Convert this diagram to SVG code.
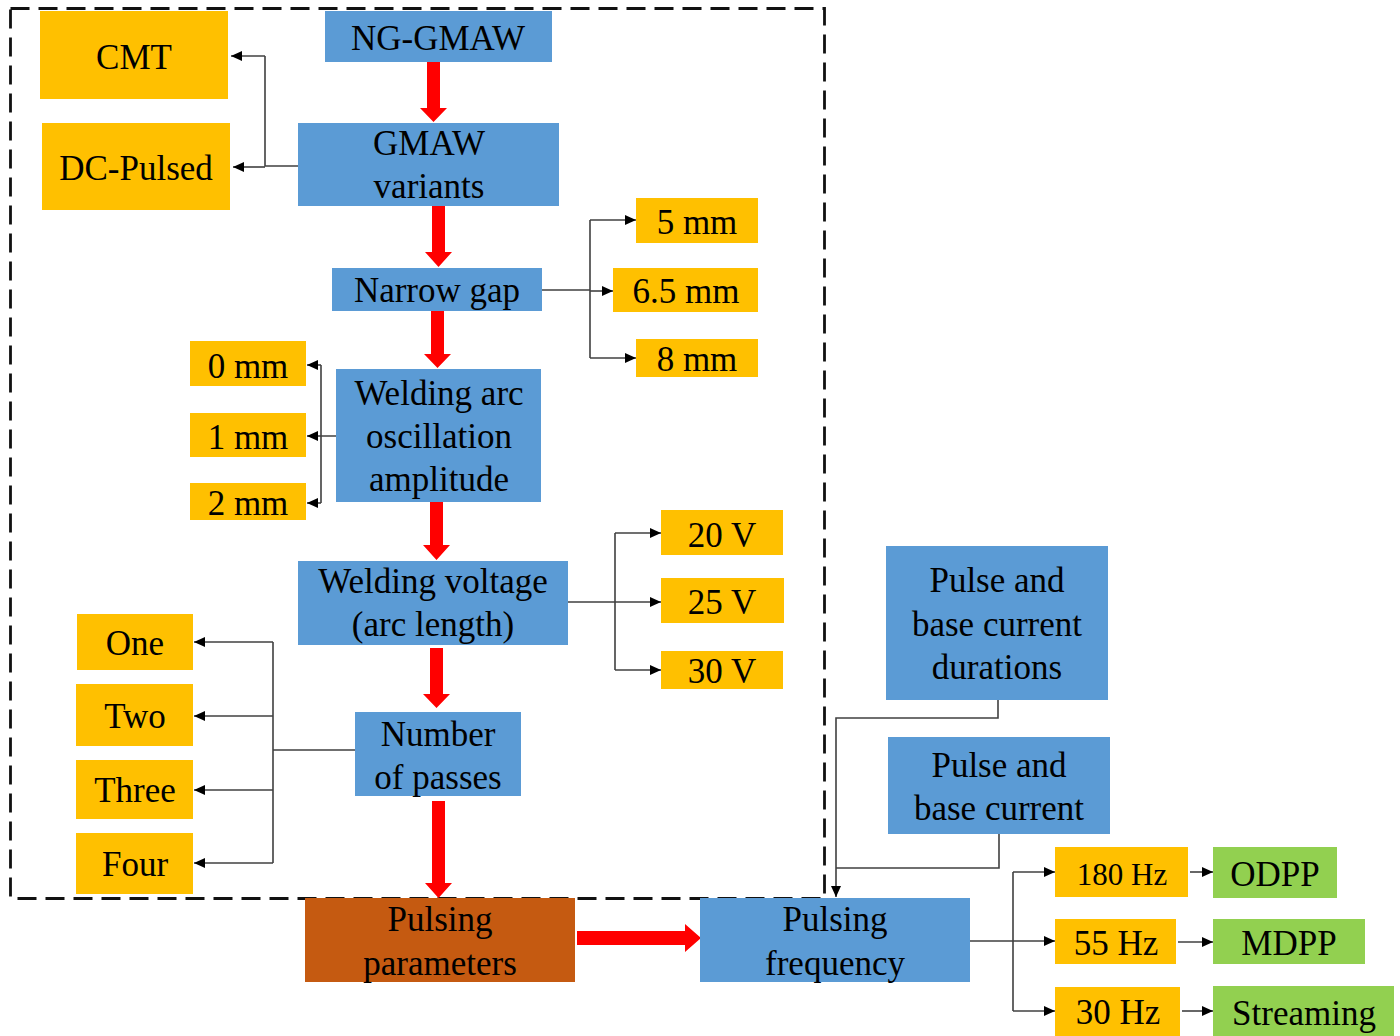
<svg xmlns="http://www.w3.org/2000/svg" width="1400" height="1036" viewBox="0 0 1400 1036">
<defs>
<style>
.b{fill:#5B9BD5}
.o{fill:#FFC000}
.g{fill:#92D050}
.r{fill:#C55A11}
text{font-family:"Liberation Serif","Times New Roman",serif;font-size:35px;fill:#000;text-anchor:middle}
.s{font-size:31px}
.c{fill:none;stroke:#404040;stroke-width:1.6}
.ca{fill:none;stroke:#404040;stroke-width:1.6;marker-end:url(#ah)}
.red{fill:#FF0000}
</style>
<marker id="ah" markerUnits="userSpaceOnUse" markerWidth="12" markerHeight="10" refX="11" refY="5" orient="auto">
<path d="M0,0 L11,5 L0,10 z" fill="#000"/>
</marker>
</defs>
<rect width="1400" height="1036" fill="#fff"/>
<rect x="10.5" y="8.5" width="814" height="890" fill="none" stroke="#111" stroke-width="2.8" stroke-dasharray="19 9"/>

<g id="connectors">
<path class="c" d="M298,166 H265 V56"/>
<path class="ca" d="M265,56 H231"/>
<path class="ca" d="M265,167 H233"/>
<path class="c" d="M542,290 H590 M590,220 V358"/>
<path class="ca" d="M590,220 H636"/>
<path class="ca" d="M590,291 H613"/>
<path class="ca" d="M590,358 H636"/>
<path class="c" d="M336,436 H321 M321,365 V503"/>
<path class="ca" d="M321,365 H307"/>
<path class="ca" d="M321,436 H307"/>
<path class="ca" d="M321,503 H307"/>
<path class="c" d="M568,602 H615 M615,533 V670"/>
<path class="ca" d="M615,533 H661"/>
<path class="ca" d="M615,602 H661"/>
<path class="ca" d="M615,670 H661"/>
<path class="c" d="M355,750 H273 M273,642 V863"/>
<path class="ca" d="M273,642 H194"/>
<path class="ca" d="M273,716 H194"/>
<path class="ca" d="M273,790 H194"/>
<path class="ca" d="M273,863 H194"/>
<path class="ca" d="M998,700 V718 H836 V897"/>
<path class="c" d="M999,834 V868 H836"/>
<path class="c" d="M970,941 H1013 M1013,872 V1011"/>
<path class="ca" d="M1013,872 H1055"/>
<path class="ca" d="M1013,941 H1055"/>
<path class="ca" d="M1013,1011 H1055"/>
<path class="ca" d="M1190,872 H1213"/>
<path class="ca" d="M1178,942 H1213"/>
<path class="ca" d="M1182,1011 H1213"/>
<polygon class="red" points="427,62 440,62 440,108 447,108 433.5,122 420,108 427,108"/>
<polygon class="red" points="432,206 445,206 445,252 452,252 438.5,267 425,252 432,252"/>
<polygon class="red" points="431,311 444,311 444,354 451,354 437.5,368 424,354 431,354"/>
<polygon class="red" points="430,502 443,502 443,545 450,545 436.5,560 423,545 430,545"/>
<polygon class="red" points="430,648 443,648 443,694 450,694 436.5,708 423,694 430,694"/>
<polygon class="red" points="432,801 445,801 445,883 452,883 438.5,898 425,883 432,883"/>
<polygon class="red" points="577,931 685,931 685,924 701,938 685,952 685,945 577,945"/>
</g>

<g id="ng-gmaw"><rect class="b" x="325" y="11" width="227" height="51"/><text x="438" y="50">NG-GMAW</text></g>
<g id="cmt"><rect class="o" x="40" y="11" width="188" height="88"/><text x="134" y="69">CMT</text></g>
<g id="dc-pulsed"><rect class="o" x="42" y="123" width="188" height="87"/><text x="136" y="180">DC-Pulsed</text></g>
<g id="gmaw-variants"><rect class="b" x="298" y="123" width="261" height="83"/><text x="429" y="155">GMAW</text><text x="429" y="198">variants</text></g>
<g id="narrow-gap"><rect class="b" x="332" y="268" width="210" height="43"/><text x="437" y="302">Narrow gap</text></g>
<g id="gap-5"><rect class="o" x="636" y="198" width="122" height="45"/><text x="697" y="234">5 mm</text></g>
<g id="gap-6-5"><rect class="o" x="613" y="268" width="145" height="44"/><text x="686" y="303">6.5 mm</text></g>
<g id="gap-8"><rect class="o" x="636" y="339" width="122" height="38"/><text x="697" y="371">8 mm</text></g>
<g id="amp-0"><rect class="o" x="190" y="341" width="116" height="45"/><text x="248" y="378">0 mm</text></g>
<g id="amp-1"><rect class="o" x="190" y="413" width="116" height="44"/><text x="248" y="449">1 mm</text></g>
<g id="amp-2"><rect class="o" x="190" y="483" width="116" height="37"/><text x="248" y="515">2 mm</text></g>
<g id="oscillation"><rect class="b" x="336" y="369" width="205" height="133"/><text x="439" y="405">Welding arc</text><text x="439" y="448">oscillation</text><text x="439" y="491">amplitude</text></g>
<g id="voltage"><rect class="b" x="298" y="561" width="270" height="84"/><text x="433" y="593">Welding voltage</text><text x="433" y="636">(arc length)</text></g>
<g id="v20"><rect class="o" x="661" y="510" width="122" height="45"/><text x="722" y="547">20 V</text></g>
<g id="v25"><rect class="o" x="661" y="578" width="123" height="45"/><text x="722" y="614">25 V</text></g>
<g id="v30"><rect class="o" x="661" y="651" width="122" height="38"/><text x="722" y="683">30 V</text></g>
<g id="one"><rect class="o" x="77" y="614" width="116" height="56"/><text x="135" y="655">One</text></g>
<g id="two"><rect class="o" x="76" y="684" width="117" height="62"/><text x="135" y="728">Two</text></g>
<g id="three"><rect class="o" x="76" y="760" width="117" height="59"/><text x="135" y="802">Three</text></g>
<g id="four"><rect class="o" x="76" y="833" width="117" height="61"/><text x="135" y="876">Four</text></g>
<g id="passes"><rect class="b" x="355" y="712" width="166" height="84"/><text x="438" y="746">Number</text><text x="438" y="789">of passes</text></g>
<g id="pulsing-parameters"><rect class="r" x="305" y="898" width="270" height="84"/><text x="440" y="931">Pulsing</text><text x="440" y="975">parameters</text></g>
<g id="pulsing-frequency"><rect class="b" x="700" y="898" width="270" height="84"/><text x="835" y="931">Pulsing</text><text x="835" y="975">frequency</text></g>
<g id="durations"><rect class="b" x="886" y="546" width="222" height="154"/><text x="997" y="592">Pulse and</text><text x="997" y="636">base current</text><text x="997" y="679">durations</text></g>
<g id="base-current"><rect class="b" x="888" y="737" width="222" height="97"/><text x="999" y="777">Pulse and</text><text x="999" y="820">base current</text></g>
<g id="hz180"><rect class="o" x="1055" y="847" width="133" height="50"/><text class="s" x="1122" y="885">180 Hz</text></g>
<g id="hz55"><rect class="o" x="1055" y="919" width="121" height="45"/><text x="1116" y="955">55 Hz</text></g>
<g id="hz30"><rect class="o" x="1055" y="987" width="125" height="49"/><text x="1118" y="1024">30 Hz</text></g>
<g id="odpp"><rect class="g" x="1213" y="847" width="124" height="51"/><text x="1275" y="886">ODPP</text></g>
<g id="mdpp"><rect class="g" x="1213" y="919" width="152" height="45"/><text x="1289" y="955">MDPP</text></g>
<g id="streaming"><rect class="g" x="1213" y="986" width="181" height="50"/><text x="1304" y="1025">Streaming</text></g>
</svg>
